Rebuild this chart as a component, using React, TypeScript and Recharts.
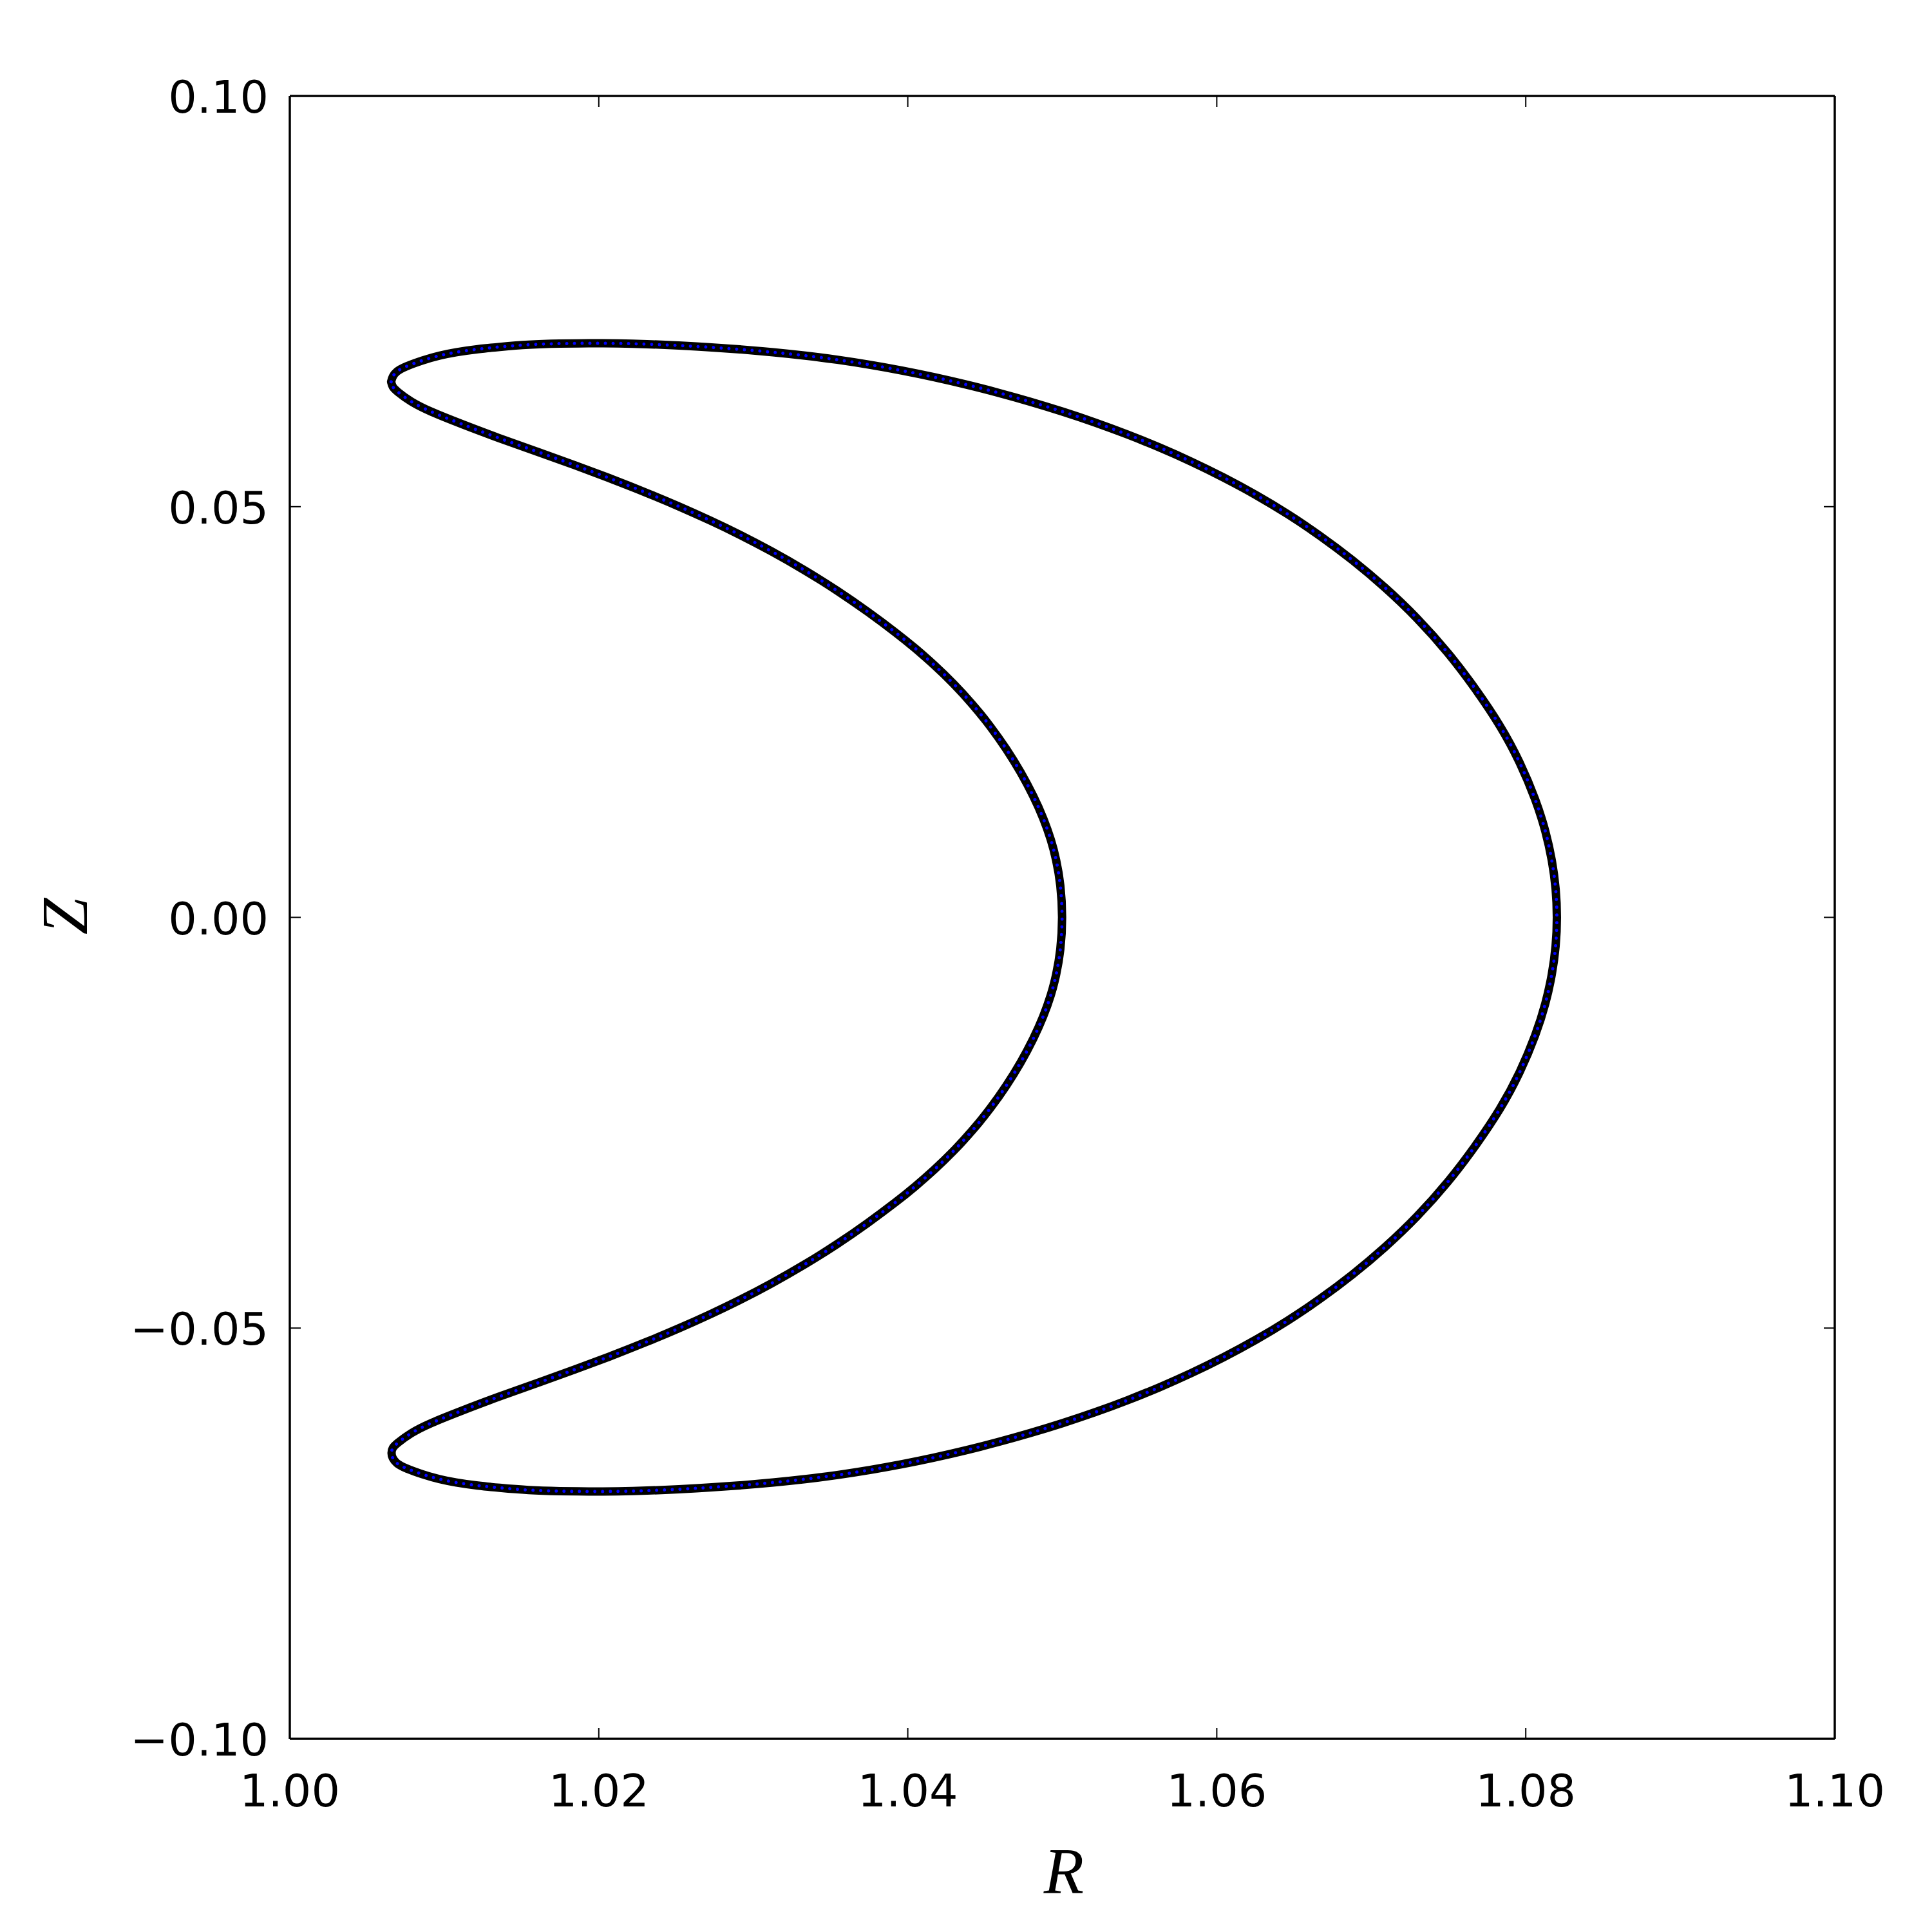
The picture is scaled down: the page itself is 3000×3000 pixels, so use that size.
import { LineChart, Line, XAxis, YAxis } from "recharts"

// outer boundary, upper half: from the upper tip over the top to the right-hand extreme
const outerUpperR = [
  1.00656, 1.00664, 1.00689, 1.00739, 1.00864, 1.00969, 1.01073, 1.01219, 1.01348, 1.01544,
  1.01752, 1.01932, 1.02128, 1.02307, 1.02524, 1.02711, 1.0292, 1.03128, 1.03336, 1.03545,
  1.03753, 1.03961, 1.0417, 1.04378, 1.04587, 1.04795, 1.05003, 1.05212, 1.0542, 1.05629,
  1.05837, 1.06045, 1.06254, 1.06462, 1.0667, 1.06879, 1.07087, 1.07296, 1.07504, 1.07671,
  1.07838, 1.07963, 1.08067, 1.0813, 1.08171, 1.08196, 1.08204,
]
const outerUpperZ = [
  0.0652, 0.06583, 0.06645, 0.067, 0.06786, 0.06841, 0.06881, 0.0692, 0.06943, 0.06975,
  0.06986, 0.0699, 0.06988, 0.0698, 0.06962, 0.06942, 0.06915, 0.06881, 0.0684, 0.0679,
  0.06729, 0.06659, 0.06578, 0.06488, 0.06388, 0.06278, 0.06158, 0.06027, 0.05882, 0.05723,
  0.05549, 0.05357, 0.05145, 0.0491, 0.04647, 0.04353, 0.04024, 0.03651, 0.03212, 0.02795,
  0.02332, 0.01893, 0.01423, 0.01046, 0.00693, 0.00348, 0,
]

// outer boundary, lower half: from the right-hand extreme back to the lower tip
const outerLowerR = [
  1.08196, 1.08171, 1.0813, 1.08067, 1.07963, 1.07838, 1.07671, 1.07504, 1.07296, 1.07087,
  1.06879, 1.0667, 1.06462, 1.06254, 1.06045, 1.05837, 1.05629, 1.0542, 1.05212, 1.05003,
  1.04795, 1.04587, 1.04378, 1.0417, 1.03961, 1.03753, 1.03545, 1.03336, 1.03128, 1.0292,
  1.02711, 1.02524, 1.02307, 1.02128, 1.01932, 1.01752, 1.01544, 1.01348, 1.01219, 1.01073,
  1.00969, 1.00864, 1.00739, 1.00689, 1.00664, 1.00656,
]
const outerLowerZ = [
  -0.00348, -0.00693, -0.01046, -0.01423, -0.01893, -0.02332, -0.02795, -0.03212, -0.03651, -0.04024,
  -0.04353, -0.04647, -0.0491, -0.05145, -0.05357, -0.05549, -0.05723, -0.05882, -0.06027, -0.06158,
  -0.06278, -0.06388, -0.06488, -0.06578, -0.06659, -0.06729, -0.0679, -0.0684, -0.06881, -0.06915,
  -0.06942, -0.06962, -0.0698, -0.06988, -0.0699, -0.06986, -0.06975, -0.06943, -0.0692, -0.06881,
  -0.06841, -0.06786, -0.067, -0.06645, -0.06583, -0.0652,
]

// inner boundary, lower half: from the lower tip to the inner extreme
const innerLowerR = [
  1.00664, 1.00689, 1.00781, 1.00906, 1.01106, 1.01348, 1.01598, 1.01848, 1.02086, 1.02323,
  1.02515, 1.02732, 1.02907, 1.03115, 1.03336, 1.03545, 1.0374, 1.03932, 1.04045, 1.0417,
  1.04295, 1.04419, 1.04536, 1.0464, 1.04732, 1.04815, 1.04878, 1.04928, 1.04961, 1.0499,
  1.05003,
]
const innerLowerZ = [
  -0.06457, -0.0641, -0.06277, -0.06159, -0.0601, -0.05837, -0.05673, -0.05503, -0.05336, -0.05159,
  -0.05008, -0.04824, -0.04666, -0.04462, -0.04225, -0.03978, -0.03724, -0.03454, -0.03282, -0.03077,
  -0.02851, -0.02597, -0.02325, -0.02047, -0.01768, -0.01473, -0.01208, -0.00944, -0.00706, -0.00403,
  0,
]

// inner boundary, upper half: from the inner extreme back to the upper tip
const innerUpperR = [
  1.0499, 1.04961, 1.04928, 1.04878, 1.04815, 1.04732, 1.0464, 1.04536, 1.04419, 1.04295,
  1.0417, 1.04045, 1.03932, 1.0374, 1.03545, 1.03336, 1.03115, 1.02907, 1.02732, 1.02515,
  1.02323, 1.02086, 1.01848, 1.01598, 1.01348, 1.01106, 1.00906, 1.00781, 1.00689, 1.00664,
  1.00656,
]
const innerUpperZ = [
  0.00403, 0.00706, 0.00944, 0.01208, 0.01473, 0.01768, 0.02047, 0.02325, 0.02597, 0.02851,
  0.03077, 0.03282, 0.03454, 0.03724, 0.03978, 0.04225, 0.04462, 0.04666, 0.04824, 0.05008,
  0.05159, 0.05336, 0.05503, 0.05673, 0.05837, 0.0601, 0.06159, 0.06277, 0.0641, 0.06457,
  0.0652,
]

const rTicks = [1.0, 1.02, 1.04, 1.06, 1.08, 1.1]
const zTicks = [-0.1, -0.05, 0, 0.05, 0.1]

const toPoints = (rs: number[], zs: number[]) => rs.map((r, i) => ({ R: r, Z: zs[i] }))
const data = [
  ...toPoints(outerUpperR, outerUpperZ),
  ...toPoints(outerLowerR, outerLowerZ),
  ...toPoints(innerLowerR, innerLowerZ),
  ...toPoints(innerUpperR, innerUpperZ),
]

const FONT = "DejaVu Sans"
const fmt = (v: number) => (v < 0 ? "\u2212" : "") + Math.abs(v).toFixed(2)

const BottomTick = ({ x, y, payload }: any) => (
  <g>
    <line x1={x} x2={x} y1={y} y2={y - 17} stroke="#000" strokeWidth={2} />
    <text x={x} y={y + 105} textAnchor="middle" fontSize={70} fontFamily={FONT} fill="#000">
      {fmt(payload.value)}
    </text>
  </g>
)
const TopTick = ({ x, y }: any) => <line x1={x} x2={x} y1={y} y2={y + 17} stroke="#000" strokeWidth={2} />
const LeftTick = ({ x, y, payload }: any) => (
  <g>
    <line x1={x} x2={x + 17} y1={y} y2={y} stroke="#000" strokeWidth={2} />
    <text x={x - 33} y={y + 26} textAnchor="end" fontSize={70} fontFamily={FONT} fill="#000">
      {fmt(payload.value)}
    </text>
  </g>
)
const RightTick = ({ x, y }: any) => <line x1={x} x2={x - 17} y1={y} y2={y} stroke="#000" strokeWidth={2} />

const RLabel = () => (
  <text x={1652} y={2940} textAnchor="middle" fontSize={102} fontStyle="italic" fontFamily="Liberation Serif" fill="#000">
    R
  </text>
)
const ZLabel = () => (
  <text
    transform="translate(135,1423) rotate(-90)"
    textAnchor="middle"
    fontSize={102}
    fontStyle="italic"
    fontFamily="Liberation Serif"
    fill="#000"
  >
    Z
  </text>
)

const axisLine = { stroke: "#000", strokeWidth: 3.5 }

export default function App() {
  return (
    <div style={{ position: "absolute", left: 0, top: 0, background: "#fff" }}>
      <LineChart width={3000} height={3000} data={data} margin={{ top: 109, right: 111, bottom: 260, left: 410 }}>
        <XAxis
          dataKey="R"
          type="number"
          domain={[1.0, 1.1]}
          ticks={rTicks}
          interval={0}
          height={40}
          tickSize={0}
          tickMargin={0}
          tickLine={false}
          axisLine={axisLine}
          tick={BottomTick}
          label={<RLabel />}
          allowDataOverflow
        />
        <XAxis
          xAxisId="top"
          orientation="top"
          dataKey="R"
          type="number"
          domain={[1.0, 1.1]}
          ticks={rTicks}
          interval={0}
          height={40}
          tickSize={0}
          tickMargin={0}
          tickLine={false}
          axisLine={axisLine}
          tick={TopTick}
          allowDataOverflow
        />
        <YAxis
          type="number"
          domain={[-0.1, 0.1]}
          ticks={zTicks}
          interval={0}
          width={40}
          tickSize={0}
          tickMargin={0}
          tickLine={false}
          axisLine={axisLine}
          tick={LeftTick}
          label={<ZLabel />}
          allowDataOverflow
        />
        <YAxis
          yAxisId="right"
          orientation="right"
          type="number"
          domain={[-0.1, 0.1]}
          ticks={zTicks}
          interval={0}
          width={40}
          tickSize={0}
          tickMargin={0}
          tickLine={false}
          axisLine={axisLine}
          tick={RightTick}
          allowDataOverflow
        />
        <Line
          dataKey="Z"
          type="basis"
          stroke="#000"
          strokeWidth={13}
          strokeLinejoin="round"
          strokeLinecap="round"
          dot={false}
          activeDot={false}
          isAnimationActive={false}
        />
        <Line
          xAxisId="top"
          yAxisId="right"
          dataKey="Z"
          type="basis"
          stroke="#0000ff"
          strokeWidth={5}
          strokeLinecap="round"
          strokeDasharray="0.01 12"
          dot={false}
          activeDot={false}
          isAnimationActive={false}
        />
      </LineChart>
    </div>
  )
}
